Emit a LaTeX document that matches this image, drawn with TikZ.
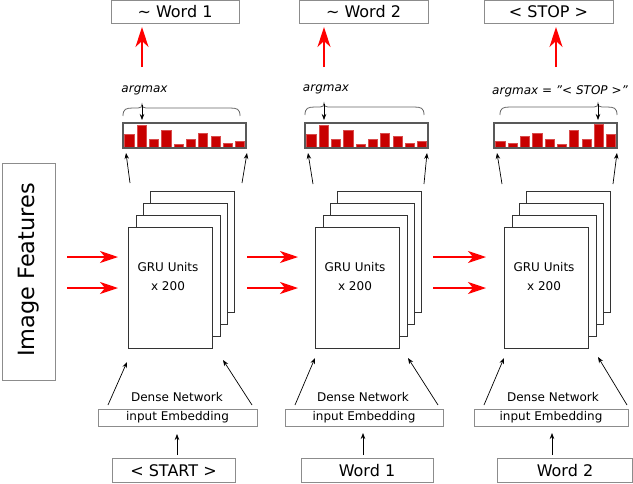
\documentclass[tikz,border=0pt]{standalone}
\usepackage{fontspec}
\setmainfont{DejaVu Sans}
\usetikzlibrary{arrows.meta}
\definecolor{barred}{HTML}{C80000}
\definecolor{boxgray}{HTML}{8C8C8C}
\definecolor{darkline}{HTML}{333333}
\tikzset{
  wordbox/.style={draw=boxgray,line width=0.8pt,inner sep=0pt,font=\fontsize{16}{19}\selectfont},
  embbox/.style={draw=boxgray,line width=0.8pt,inner sep=0pt,minimum height=17pt,font=\fontsize{12}{14}\selectfont},
  grubox/.style={draw=darkline,fill=white,line width=0.8pt,inner sep=0pt,minimum width=84pt,minimum height=121pt},
  barbox/.style={draw=black!65,line width=1.3pt,inner sep=0pt,minimum width=123pt,minimum height=25pt},
  smalltext/.style={font=\fontsize{12}{14}\selectfont,inner sep=0pt},
  gtext/.style={font=\fontsize{12}{19}\selectfont,align=center,inner sep=0pt},
  amtext/.style={font=\fontsize{12}{14}\selectfont\itshape,inner sep=0pt},
  redup/.style={red,line width=1.6pt,-{Stealth[length=20pt,width=13pt,inset=6pt]}},
  redright/.style={red,line width=1.5pt,-{Stealth[length=18pt,width=12pt,inset=5pt]}},
  blk/.style={black,line width=0.7pt,-{Stealth[length=6pt,width=4.5pt]}},
  bracestyle/.style={black!60,line width=0.8pt},
  bar/.style={fill=barred,draw=barred!70!white,line width=0.3pt}
}
\begin{document}
\begin{tikzpicture}[x=1pt,y=-1pt]
\useasboundingbox (0,0) rectangle (633,483);

% ---------- Image features ----------
\node[draw=boxgray,line width=0.8pt,minimum width=53pt,minimum height=217pt,inner sep=0pt] (imgbox) at (28.5,271.5) {};
\node[rotate=90,font=\fontsize{22.4}{26}\selectfont,inner sep=0pt] (imgtxt) at (28.5,270) {Image Features};

% ---------- top word boxes ----------
\node[wordbox,minimum width=128pt,minimum height=23pt] (w1) at (175,11.75) {\symbol{126} Word 1};
\node[wordbox,minimum width=129pt,minimum height=23pt] (w2) at (363.5,11.75) {\symbol{126} Word 2};
\node[wordbox,minimum width=129pt,minimum height=23pt] (w3) at (548.5,11.75) {< STOP >};

\coordinate (u1s) at (142,67); \coordinate (u1e) at (142,27);
\coordinate (u2s) at (324,67); \coordinate (u2e) at (324,27);
\coordinate (u3s) at (556,67); \coordinate (u3e) at (556,27);
\draw[redup] (u1s) -- (u1e);
\draw[redup] (u2s) -- (u2e);
\draw[redup] (u3s) -- (u3e);

% ---------- argmax labels ----------
\node[amtext] (am1) at (144.5,90) {argmax};
\node[amtext] (am2) at (326,89) {argmax};
\node[amtext] (am3) at (560,91) {argmax = \symbol{34}< STOP >\symbol{34}};

% braces
\draw[bracestyle] (123,116) .. controls (123,109) and (126,108) .. (133,108) -- (138,108)
  .. controls (141,108) and (142,107) .. (142,104) .. controls (142,107) and (143,108) .. (146,108)
  -- (230,108) .. controls (237,108) and (240,109) .. (240,116);
\draw[bracestyle] (305,115) .. controls (305,108) and (308,107) .. (315,107) -- (320,107)
  .. controls (323,107) and (324,106) .. (324,103) .. controls (324,106) and (325,107) .. (328,107)
  -- (414,107) .. controls (421,107) and (424,108) .. (424,115);
\draw[bracestyle] (500,115) .. controls (500,108) and (503,107) .. (510,107) -- (594,107)
  .. controls (597,107) and (598,106) .. (598,103) .. controls (598,106) and (599,107) .. (602,107)
  -- (607,107) .. controls (614,107) and (617,108) .. (617,115);

% ---------- bar boxes ----------
\foreach \h [count=\i from 0] in {13.3,22.7,8,17.3,3.3,8,14.3,11.7,4.3,6.3}{
  \draw[bar] ({123+\i*12.3+1.6},147.4) rectangle ++(9.2,-\h);
  \draw[bar] ({305+\i*12.3+1.6},147.4) rectangle ++(9.2,-\h);
}
\foreach \h [count=\i from 0] in {6.7,4.7,11.3,14.3,8,3.3,17.7,8,23,13.3}{
  \draw[bar] ({494+\i*12.3+1.6},147.4) rectangle ++(9.2,-\h);
}
\node[barbox] (bb1) at (184.5,135.5) {};
\node[barbox] (bb2) at (366.5,135.5) {};
\node[barbox] (bb3) at (555.5,135.5) {};

% argmax arrows
\coordinate (a1s) at (142,105); \coordinate (a1e) at (142,120);
\coordinate (a2s) at (324,104); \coordinate (a2e) at (324,120);
\coordinate (a3s) at (598,104); \coordinate (a3e) at (598,120);
\draw[blk] (a1s) -- (a1e);
\draw[blk] (a2s) -- (a2e);
\draw[blk] (a3s) -- (a3e);

% ---------- GRU stacks ----------
\foreach \X/\n in {128/1,315/2,504/3}{
  \node[grubox] (g\n d) at ({\X+22+42},{227-36+60.5}) {};
  \node[grubox] (g\n c) at ({\X+15+42},{227-24+60.5}) {};
  \node[grubox] (g\n b) at ({\X+8+42},{227-12+60.5}) {};
  \node[grubox] (g\n) at ({\X+42},{227+60.5}) {};
  \node[gtext] (gt\n) at ({\X+40},276.5) {GRU Units\\x 200};
}

% red horizontal arrows
\foreach \a/\b/\n in {67/118/1,247/298/2,433/486/3}{
  \coordinate (h\n as) at (\a,257); \coordinate (h\n ae) at (\b,257);
  \coordinate (h\n bs) at (\a,288); \coordinate (h\n be) at (\b,288);
  \draw[redright] (h\n as) -- (h\n ae);
  \draw[redright] (h\n bs) -- (h\n be);
}

% GRU -> bar box arrows
\coordinate (p1a) at (130,183); \coordinate (q1a) at (126,153);
\coordinate (p1b) at (242,183); \coordinate (q1b) at (247,153);
\coordinate (p2a) at (313,184); \coordinate (q2a) at (308,153);
\coordinate (p2b) at (424,184); \coordinate (q2b) at (427,153);
\coordinate (p3a) at (502,184); \coordinate (q3a) at (497,153);
\coordinate (p3b) at (613,184); \coordinate (q3b) at (617,153);
\foreach \n in {1,2,3}{
  \draw[blk] (p\n a) -- (q\n a);
  \draw[blk] (p\n b) -- (q\n b);
}

% ---------- bottom ----------
\node[smalltext] (dn1) at (177,397) {Dense Network};
\node[smalltext] (dn2) at (363,397) {Dense Network};
\node[smalltext] (dn3) at (553,397) {Dense Network};

\node[embbox,minimum width=159pt] (e1) at (177.5,417.5) {input Embedding};
\node[embbox,minimum width=158pt] (e2) at (364,417.5) {input Embedding};
\node[embbox,minimum width=154pt] (e3) at (551,417.5) {input Embedding};

\node[wordbox,minimum width=123pt,minimum height=24pt] (s1) at (173.5,470.5) {< START >};
\node[wordbox,minimum width=132pt,minimum height=24pt] (s2) at (367,470.5) {Word 1};
\node[wordbox,minimum width=135pt,minimum height=24pt] (s3) at (565,470.5) {Word 2};

% bottom -> embedding arrows
\coordinate (b1s) at (177,455); \coordinate (b1e) at (177,434);
\coordinate (b2s) at (363,455); \coordinate (b2e) at (363,433);
\coordinate (b3s) at (552,455); \coordinate (b3e) at (552,433);
\foreach \n in {1,2,3}{ \draw[blk] (b\n s) -- (b\n e); }

% embedding -> GRU arrows
\coordinate (r1a) at (108,405); \coordinate (t1a) at (127,362);
\coordinate (r1b) at (252,405); \coordinate (t1b) at (223,360);
\coordinate (r2a) at (295,405); \coordinate (t2a) at (315,358);
\coordinate (r2b) at (438,405); \coordinate (t2b) at (408,358);
\coordinate (r3a) at (484,405); \coordinate (t3a) at (504,358);
\coordinate (r3b) at (627,405); \coordinate (t3b) at (598,357);
\foreach \n in {1,2,3}{
  \draw[blk] (r\n a) -- (t\n a);
  \draw[blk] (r\n b) -- (t\n b);
}
\end{tikzpicture}
\end{document}
